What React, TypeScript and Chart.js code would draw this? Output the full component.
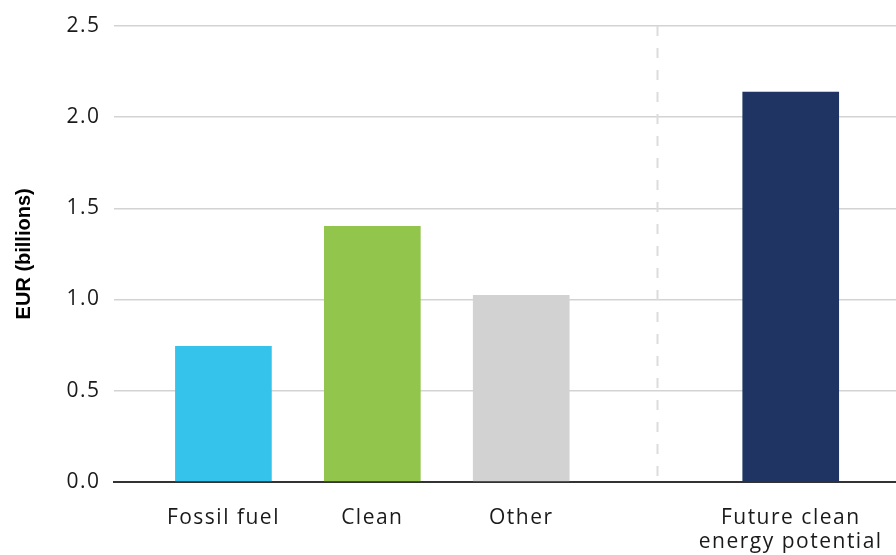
import React, { useEffect, useRef } from "react";
import { Chart, registerables } from "chart.js";

Chart.register(...registerables);

const categories: (string | string[])[] = ["Fossil fuel", "Clean", "Other", ["Future clean", "energy potential"]];
const values = [0.742, 1.401, 1.022, 2.137];
const categoryX = [1, 2, 3, 4.81];
const dividerX = 3.91;
const barColors = ["#35C3EC", "#92C54B", "#D2D2D2", "#1F3462"];
const yTicks = [0, 0.5, 1.0, 1.5, 2.0, 2.5];

const tickFont = { family: "'Open Sans', sans-serif", size: 21, lineHeight: 1.15 };

const dividerPlugin = {
  id: "divider",
  beforeDatasetsDraw(chart: any) {
    const { ctx, chartArea, scales } = chart;
    const x = Math.round(scales.x.getPixelForValue(dividerX)) + 0.5;
    ctx.save();
    ctx.strokeStyle = "#DCDCDC";
    ctx.lineWidth = 2;
    ctx.setLineDash([10, 12]);
    ctx.beginPath();
    ctx.moveTo(x, chartArea.top);
    ctx.lineTo(x, chartArea.bottom);
    ctx.stroke();
    ctx.restore();
  },
};

const spacingPlugin = {
  id: "labelSpacing",
  afterLayout(chart: any) {
    Object.values(chart.scales).forEach((scale: any) => {
      if (scale.__spaced) return;
      const orig = scale.drawLabels.bind(scale);
      scale.drawLabels = (area: any) => {
        const ctx = scale.ctx;
        const prev = ctx.letterSpacing;
        ctx.letterSpacing = "1.5px";
        orig(area);
        ctx.letterSpacing = prev || "0px";
      };
      scale.__spaced = true;
    });
  },
};

export default function App() {
  const ref = useRef<HTMLCanvasElement>(null);
  useEffect(() => {
    const chart = new Chart(ref.current!, {
      type: "bar",
      data: {
        datasets: [
          {
            data: values.map((v, i) => ({ x: categoryX[i], y: v })),
            backgroundColor: barColors,
            barThickness: 96,
            borderWidth: 0,
          },
        ],
      },
      plugins: [dividerPlugin, spacingPlugin],
      options: {
        animation: false,
        responsive: false,
        maintainAspectRatio: false,
        layout: { padding: { top: 26, right: 0, left: 12, bottom: 0 } },
        plugins: { legend: { display: false }, tooltip: { enabled: false } },
        scales: {
          x: {
            type: "linear",
            offset: false,
            min: 0.262,
            max: 5.517,
            grid: { display: false, drawTicks: false },
            border: { display: true, color: "#333333", width: 2 },
            afterBuildTicks: (axis: any) => {
              axis.ticks = categoryX.map((v) => ({ value: v }));
            },
            ticks: {
              autoSkip: false,
              maxRotation: 0,
              padding: 24,
              color: "#1a1a1a",
              font: tickFont,
              callback: (value: any) => {
                const i = categoryX.indexOf(Number(value));
                return i >= 0 ? categories[i] : "";
              },
            },
          },
          y: {
            min: 0,
            max: 2.5,
            afterBuildTicks: (axis: any) => {
              axis.ticks = yTicks.map((v) => ({ value: v }));
            },
            grid: { color: "#D3D3D3", lineWidth: 1.5, drawTicks: false },
            border: { display: false },
            ticks: {
              padding: 13,
              color: "#1a1a1a",
              font: tickFont,
              callback: (v: any) => Number(v).toFixed(1),
            },
            title: {
              display: true,
              text: "EUR (billions)",
              color: "#000000",
              font: { family: "'Liberation Sans', Arial, sans-serif", size: 20, weight: "bold" },
              padding: { top: 0, bottom: 22 },
            },
          },
        },
      },
    } as any);
    return () => chart.destroy();
  }, []);
  return (
    <div style={{ position: "fixed", left: 0, top: 0, width: 896, height: 555, background: "#fff", overflow: "hidden" }}>
      <canvas ref={ref} width={896} height={578} style={{ display: "block" }} />
    </div>
  );
}
